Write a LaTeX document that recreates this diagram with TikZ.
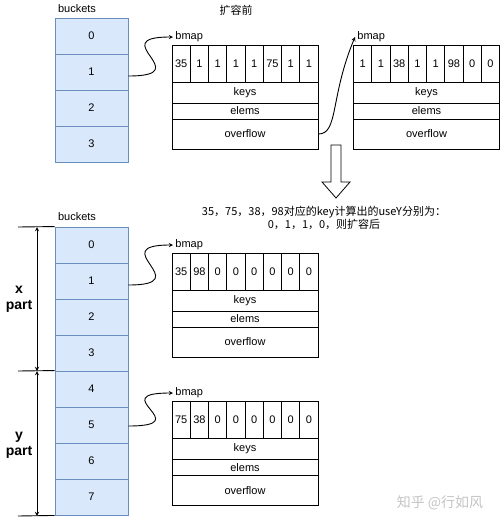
\documentclass[tikz,border=0pt]{standalone}
\usepackage{fontspec}
\setmainfont{Liberation Sans}
\newfontfamily\cjk{Noto Sans CJK SC}
\definecolor{bucketfill}{HTML}{DAE8FC}
\definecolor{bucketline}{HTML}{6C8EBF}
\definecolor{markgray}{HTML}{C4C4C4}
\tikzset{
    bucket/.style={draw=bucketline,fill=bucketfill,minimum width=73,minimum height=36,inner sep=0pt},
    cell/.style={draw,minimum width=18.25,minimum height=37,inner sep=0pt},
    field/.style={draw,minimum width=146,inner sep=0pt},
    lbl/.style={inner sep=2pt,anchor=west}
}
\begin{document}
\begin{tikzpicture}[x=1pt,y=-1pt,>=stealth,line width=0.9pt,font=\fontsize{11}{13}\selectfont]
            \useasboundingbox (0,0) rectangle (500,525);

            % before growing
            \node (t-head) at (77, 9) { buckets };
            \node (t-title) at (236, 10) { {\cjk 扩容前} };
            \foreach \i in {0,...,3}
                \node[bucket] (b\i) at (91.5, {36+36*\i}) { \i };

            \node[lbl] (ba-map) at (173, 37) { bmap };
            \foreach \v [count=\i] in {35,1,1,1,1,75,1,1}
                \node[cell] (ba\i) at ({172+18.25*(\i-0.5)}, 63.5) { \v };
            \node[field,minimum height=21] (ba-keys) at (245, 92.5) { keys };
            \node[field,minimum height=16] (ba-elems) at (245, 111) { elems };
            \node[field,minimum height=30] (ba-over) at (245, 134) { overflow };

            \node[lbl] (bb-map) at (355, 37) { bmap };
            \foreach \v [count=\i] in {1,1,38,1,1,98,0,0}
                \node[cell] (bb\i) at ({353.5+18.25*(\i-0.5)}, 63.5) { \v };
            \node[field,minimum height=21] (bb-keys) at (426.5, 92.5) { keys };
            \node[field,minimum height=16] (bb-elems) at (426.5, 111) { elems };
            \node[field,minimum height=30] (bb-over) at (426.5, 134) { overflow };

            \draw[->] ([yshift=-4pt]b1.east) .. controls +(70,0) and +(-70,0) .. (ba-map.west);
            \draw[->] (ba-over.east) .. controls +(20,0) and +(-25,60) .. (bb-map.west);

            % hollow arrow
            \draw[line width=0.8pt] (331,145) -- (341,145) -- (341,182) -- (350,182) -- (336,198)
                -- (322,182) -- (331,182) -- cycle;
            \node[align=center] (note) at (324, 218) { {\cjk 35，75，38，98对应的key计算出的useY分别为：}\\ {\cjk 0，1，1，0，则扩容后} };

            % after growing
            \node (n-head) at (77, 217) { buckets };
            \foreach \i in {0,...,7}
                \node[bucket] (n\i) at (91.5, {245+36*\i}) { \i };

            \coordinate (xtop) at (18, 227);
            \coordinate (xmid) at (18, 371);
            \coordinate (xbot) at (18, 516);
            \draw (xtop) -- (n0.north west);
            \draw (xmid) -- (n4.north west);
            \draw (xbot) -- (n7.south west);
            \coordinate (xa) at (37, 227);
            \coordinate (xb) at (37, 371);
            \coordinate (xc) at (37, 516);
            \draw[<->] (xa) -- (xb);
            \draw[<->] (xb) -- (xc);
            \node[align=center,font=\fontsize{14}{16}\selectfont\bfseries] (xpart) at (19, 299) { x\\part };
            \node[align=center,font=\fontsize{14}{16}\selectfont\bfseries] (ypart) at (19, 445) { y\\part };

            \node[lbl] (bx-map) at (173, 245) { bmap };
            \foreach \v [count=\i] in {35,98,0,0,0,0,0,0}
                \node[cell] (bx\i) at ({172+18.25*(\i-0.5)}, 271.5) { \v };
            \node[field,minimum height=21] (bx-keys) at (245, 300.5) { keys };
            \node[field,minimum height=16] (bx-elems) at (245, 319) { elems };
            \node[field,minimum height=30] (bx-over) at (245, 342) { overflow };

            \node[lbl] (by-map) at (173, 393) { bmap };
            \foreach \v [count=\i] in {75,38,0,0,0,0,0,0}
                \node[cell] (by\i) at ({172+18.25*(\i-0.5)}, 420) { \v };
            \node[field,minimum height=21] (by-keys) at (245, 449) { keys };
            \node[field,minimum height=16] (by-elems) at (245, 467.5) { elems };
            \node[field,minimum height=30] (by-over) at (245, 490.5) { overflow };

            \draw[->] ([yshift=-4pt]n1.east) .. controls +(70,0) and +(-70,0) .. (bx-map.west);
            \draw[->] ([yshift=-1pt]n5.east) .. controls +(70,0) and +(-70,0) .. (by-map.west);

            \node[text=markgray,font=\fontsize{14}{16}\selectfont] (mark) at (440, 503) { {\cjk 知乎 @行如风} };
        \end{tikzpicture}
\end{document}
